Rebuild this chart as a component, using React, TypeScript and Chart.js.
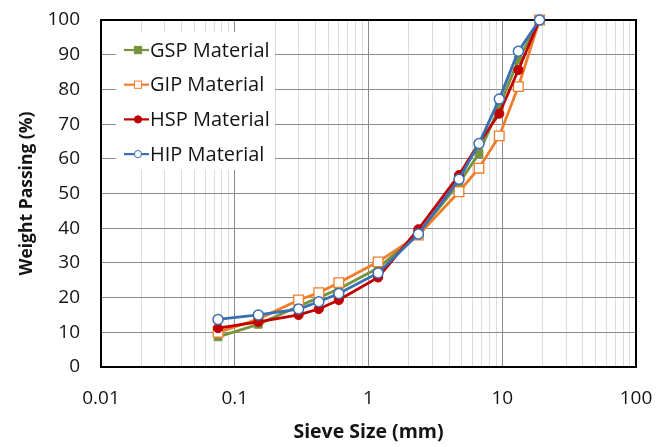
import React, { useEffect, useRef } from 'react';
import { Chart, registerables } from 'chart.js';

Chart.register(...registerables);

// ---- Data ----
const sieveSizes = [0.075, 0.15, 0.3, 0.425, 0.6, 1.18, 2.36, 4.75, 6.7, 9.5, 13.2, 19];
const gspValues = [8.7, 12.3, 17.5, 20, 22.5, 28.5, 38.5, 53, 61.5, 75, 88.5, 100];
const gipValues = [10, 13.8, 19.3, 21.4, 24.3, 30.3, 38, 50.5, 57.3, 66.6, 80.8, 100];
const hspValues = [11.2, 13, 15, 16.7, 19.3, 25.8, 39.7, 55.3, 64.5, 73, 85.6, 100];
const hipValues = [13.7, 15, 16.7, 18.8, 21.2, 27.1, 38.3, 54.1, 64.4, 77.2, 91, 100];
const seriesLabels = ['GSP Material', 'GIP Material', 'HSP Material', 'HIP Material'];

const xDecades = [0.01, 0.1, 1, 10, 100];
const xTickLabels = ['0.01', '0.1', '1', '10', '100'];
const xMinorMultipliers = [2, 3, 4, 5, 6, 7, 8, 9];
const yMin = 0;
const yMax = 100;
const yStep = 10;

const FONT = "'Open Sans', 'DejaVu Sans', sans-serif";
const TEXT = '#141414';
const MAJOR_GRID = '#8a8a8a';
const MINOR_GRID = '#dcdcdc';

const isDecade = (v: number) => xDecades.some((d) => Math.abs(v - d) / d < 1e-6);
const decadeLabel = (v: number) => {
  const i = xDecades.findIndex((d) => Math.abs(v - d) / d < 1e-6);
  return i >= 0 ? xTickLabels[i] : '';
};

const xGridValues: number[] = [];
xDecades.forEach((d, i) => {
  xGridValues.push(d);
  if (i < xDecades.length - 1) xMinorMultipliers.forEach((m) => xGridValues.push(d * m));
});

type Style = {
  color: string;
  fill: string;
  pointStyle: 'rect' | 'circle';
  radius: number;
  pointBorderWidth: number;
  order: number;
};

const styles: Style[] = [
  { color: '#77933C', fill: '#77933C', pointStyle: 'rect', radius: 5.5, pointBorderWidth: 1, order: 3 },
  { color: '#F07D2A', fill: '#ffffff', pointStyle: 'rect', radius: 6.8, pointBorderWidth: 1.3, order: 2 },
  { color: '#C00000', fill: '#C00000', pointStyle: 'circle', radius: 4.6, pointBorderWidth: 1, order: 1 },
  { color: '#3A6FB3', fill: '#ffffff', pointStyle: 'circle', radius: 5, pointBorderWidth: 1.5, order: 0 },
];
const seriesValues = [gspValues, gipValues, hspValues, hipValues];

const framePlugin = {
  id: 'frame',
  beforeDatasetsDraw(chart: any) {
    const { ctx, chartArea: a } = chart;
    ctx.save();
    ctx.strokeStyle = '#000';
    ctx.lineWidth = 2;
    ctx.strokeRect(a.left, a.top, a.right - a.left, a.bottom - a.top);
    ctx.restore();
  },
};

const legendPlugin = {
  id: 'insetLegend',
  beforeDatasetsDraw(chart: any) {
    const { ctx, chartArea: a } = chart;
    const bx = a.left + 15;
    const by = a.top + 12;
    ctx.save();
    ctx.fillStyle = '#ffffff';
    ctx.fillRect(bx, by, 159, 138);
    chart.data.datasets.forEach((ds: any, i: number) => {
      const st = styles[i];
      const y = a.top + 30 + i * 34.7;
      const x0 = bx + 8;
      const x1 = bx + 33;
      const mx = bx + 22;
      ctx.strokeStyle = st.color;
      ctx.lineWidth = 2.2;
      ctx.beginPath();
      ctx.moveTo(x0, y);
      ctx.lineTo(x1, y);
      ctx.stroke();
      ctx.fillStyle = st.fill;
      ctx.lineWidth = 1;
      if (st.pointStyle === 'rect') {
        const s = 3.6;
        ctx.fillRect(mx - s, y - s, 2 * s, 2 * s);
        ctx.strokeRect(mx - s, y - s, 2 * s, 2 * s);
      } else {
        ctx.beginPath();
        ctx.arc(mx, y, 3.6, 0, Math.PI * 2);
        ctx.fill();
        ctx.stroke();
      }
      ctx.fillStyle = TEXT;
      ctx.font = `20px ${FONT}`;
      ctx.textBaseline = 'middle';
      ctx.textAlign = 'left';
      ctx.fillText(ds.label, bx + 34, y + 1);
    });
    ctx.restore();
  },
};

export default function App() {
  const ref = useRef<HTMLCanvasElement>(null);

  useEffect(() => {
    document.body.style.margin = '0';
    const canvas = ref.current!;
    const chart = new Chart(canvas, {
      type: 'scatter',
      data: {
        datasets: seriesLabels.map((label, si) => ({
          label,
          data: sieveSizes.map((x, i) => ({ x, y: seriesValues[si][i] })),
          showLine: true,
          borderColor: styles[si].color,
          backgroundColor: styles[si].fill,
          pointBackgroundColor: styles[si].fill,
          pointBorderColor: styles[si].color,
          pointStyle: styles[si].pointStyle,
          pointRadius: styles[si].radius,
          pointBorderWidth: styles[si].pointBorderWidth,
          borderWidth: 2.8,
          tension: 0,
          order: styles[si].order,
          clip: false as any,
        })),
      },
      options: {
        responsive: false,
        maintainAspectRatio: false,
        animation: false,
        devicePixelRatio: 1,
        layout: { autoPadding: false, padding: { top: 20, right: 31, left: 0, bottom: 0 } },
        plugins: { legend: { display: false }, tooltip: { enabled: false } },
        scales: {
          x: {
            type: 'logarithmic',
            min: xDecades[0],
            max: xDecades[xDecades.length - 1],
            afterBuildTicks: (s: any) => {
              s.ticks = xGridValues.map((v) => ({ value: v }));
            },
            afterFit: (s: any) => {
              s.height = 80;
              s.paddingLeft = 0;
              s.paddingRight = 0;
            },
            ticks: {
              autoSkip: false,
              maxRotation: 0,
              minRotation: 0,
              padding: 20,
              color: TEXT,
              font: { family: FONT, size: 19 },
              callback: (v: any) => decadeLabel(Number(v)),
            },
            grid: {
              drawTicks: false,
              lineWidth: 1,
              color: (c: any) => (c.tick && isDecade(c.tick.value) ? MAJOR_GRID : MINOR_GRID),
            },
            border: { display: false },
            title: {
              display: true,
              text: 'Sieve Size (mm)',
              color: TEXT,
              font: { family: FONT, size: 19.5, weight: 'bold' },
              padding: { top: 0, bottom: 3 },
            },
          },
          y: {
            min: yMin,
            max: yMax,
            afterFit: (s: any) => {
              s.width = 101;
              s.paddingTop = 0;
              s.paddingBottom = 0;
            },
            ticks: {
              stepSize: yStep,
              padding: 21,
              color: TEXT,
              font: { family: FONT, size: 19 },
            },
            grid: { drawTicks: false, lineWidth: 1, color: MAJOR_GRID },
            border: { display: false },
            title: {
              display: true,
              text: 'Weight Passing (%)',
              color: TEXT,
              font: { family: FONT, size: 17.5, weight: 'bold' },
              padding: { top: 17, bottom: 0 },
            },
          },
        },
      },
      plugins: [framePlugin, legendPlugin],
    } as any);
    return () => chart.destroy();
  }, []);

  return (
    <div style={{ width: 667, height: 447 }}>
      <canvas ref={ref} width={667} height={447} style={{ display: 'block', width: 667, height: 447 }} />
    </div>
  );
}
